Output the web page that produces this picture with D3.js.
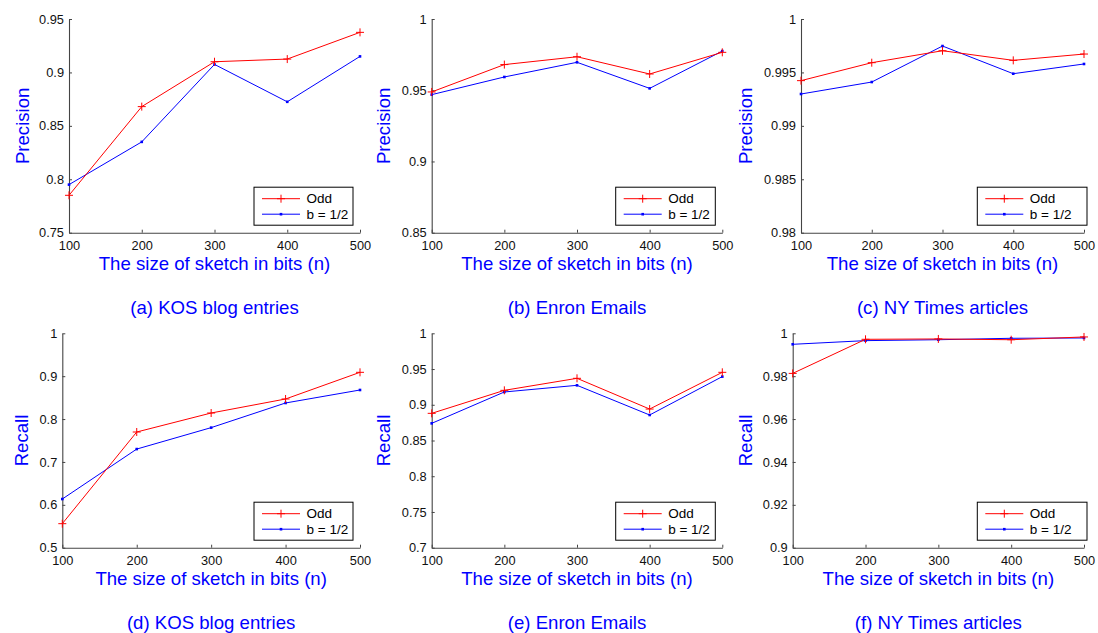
<!DOCTYPE html>
<html lang="en">
<head>
    <meta charset="UTF-8">
    <title>Precision and recall vs sketch size</title>
    <style>
        body { margin: 0; background: #fff; overflow: hidden; }
        svg { display: block; }
        text { font-family: "Liberation Sans", Arial, sans-serif; }
    </style>
</head>
<body>
    <svg id="graph" width="1098" height="633"></svg>
    <script src="https://cdn.jsdelivr.net/npm/d3@7/dist/d3.min.js"></script>
    <script>
        // data
        const sizes = [100, 200, 300, 400, 500];
        const seriesNames = ["Odd", "b = 1/2"];

        const kosPrecisionOdd = [0.785, 0.868, 0.910, 0.9125, 0.9375];
        const kosPrecisionHalf = [0.795, 0.835, 0.9075, 0.8725, 0.915];
        const enronPrecisionOdd = [0.9488, 0.968, 0.9735, 0.9614, 0.9766];
        const enronPrecisionHalf = [0.9469, 0.9593, 0.9696, 0.9513, 0.9775];
        const nytPrecisionOdd = [0.99423, 0.99591, 0.99703, 0.99613, 0.99672];
        const nytPrecisionHalf = [0.99298, 0.99410, 0.99747, 0.99488, 0.99579];

        const kosRecallOdd = [0.556, 0.7698, 0.8141, 0.8468, 0.909];
        const kosRecallHalf = [0.6135, 0.730, 0.780, 0.8375, 0.8678];
        const enronRecallOdd = [0.888, 0.9202, 0.937, 0.894, 0.9454];
        const enronRecallHalf = [0.874, 0.9179, 0.9272, 0.8857, 0.9394];
        const nytRecallOdd = [0.9813, 0.9972, 0.99736, 0.9970, 0.99829];
        const nytRecallHalf = [0.99487, 0.99658, 0.9970, 0.99767, 0.99782];

        const kosPrecisionTicks = [0.75, 0.8, 0.85, 0.9, 0.95];
        const enronPrecisionTicks = [0.85, 0.9, 0.95, 1];
        const nytPrecisionTicks = [0.98, 0.985, 0.99, 0.995, 1];
        const kosRecallTicks = [0.5, 0.6, 0.7, 0.8, 0.9, 1];
        const enronRecallTicks = [0.7, 0.75, 0.8, 0.85, 0.9, 0.95, 1];
        const nytRecallTicks = [0.9, 0.92, 0.94, 0.96, 0.98, 1];

        const captions = ["(a) KOS blog entries", "(b) Enron Emails", "(c) NY Times articles",
            "(d) KOS blog entries", "(e) Enron Emails", "(f) NY Times articles"];
        const yTitles = ["Precision", "Recall"];
        const xTitle = "The size of sketch in bits (n)";

        const panels = [
            { odd: kosPrecisionOdd, half: kosPrecisionHalf, ticks: kosPrecisionTicks },
            { odd: enronPrecisionOdd, half: enronPrecisionHalf, ticks: enronPrecisionTicks },
            { odd: nytPrecisionOdd, half: nytPrecisionHalf, ticks: nytPrecisionTicks },
            { odd: kosRecallOdd, half: kosRecallHalf, ticks: kosRecallTicks },
            { odd: enronRecallOdd, half: enronRecallHalf, ticks: enronRecallTicks },
            { odd: nytRecallOdd, half: nytRecallHalf, ticks: nytRecallTicks }
        ];

        // layout (pixels)
        const plotLeft = [[69, 431.7, 801], [62.3, 431.7, 792.7]];
        const plotRight = [360, 722.3, 1084];
        const plotTop = [19, 333.3];
        const plotBottom = [232.7, 547.7];
        const yTitleX = [[22, 383.3, 745], [21.7, 383.3, 745]];
        const legendRight = [353, 715.3, 1087];
        const legendWidth = [99, 99.6, 109.7];

        const red = "#ff0000", blue = "#0000ff";
        const svg = d3.select("#graph");

        panels.forEach((p, i) => {
            const row = Math.floor(i / 3), col = i % 3;
            const x0 = plotLeft[row][col], x1 = plotRight[col];
            const y0 = plotTop[row], y1 = plotBottom[row];

            const x = d3.scaleLinear().domain([100, 500]).range([x0, x1]);
            const y = d3.scaleLinear().domain(d3.extent(p.ticks)).range([y1, y0]);

            const g = svg.append("g");

            const xa = g.append("g")
                .attr("transform", `translate(0,${y1})`)
                .call(d3.axisBottom(x).tickValues(sizes).tickSize(-3).tickSizeOuter(0).tickPadding(7).tickFormat(d3.format("d")));
            const ya = g.append("g")
                .attr("transform", `translate(${x0},0)`)
                .call(d3.axisLeft(y).tickValues(p.ticks).tickSize(-3).tickSizeOuter(0).tickPadding(5).tickFormat(d => String(d)));

            [xa, ya].forEach(a => {
                a.selectAll("path.domain").attr("stroke", "#444").attr("stroke-width", 1.1);
                a.selectAll(".tick line").attr("stroke", "#444");
                a.selectAll(".tick text").attr("fill", "#111").style("font-size", "12.8px")
                    .style("font-family", "'Liberation Sans', Arial, sans-serif");
            });
            xa.selectAll(".tick text").attr("dy", "0.8em");

            const line = d3.line().x((d, k) => x(sizes[k])).y(d => y(d));

            g.append("path").datum(p.half)
                .attr("d", line).attr("fill", "none").attr("stroke", blue).attr("stroke-width", 1);
            g.append("path").datum(p.odd)
                .attr("d", line).attr("fill", "none").attr("stroke", red).attr("stroke-width", 1);

            g.selectAll(".dot").data(p.half).enter().append("rect")
                .attr("x", (d, k) => x(sizes[k]) - 1.3).attr("y", d => y(d) - 1.3)
                .attr("width", 2.6).attr("height", 2.6).attr("fill", blue);

            g.selectAll(".plus").data(p.odd).enter().append("path")
                .attr("d", (d, k) => {
                    const cx = x(sizes[k]), cy = y(d);
                    return `M${cx - 4},${cy}H${cx + 4}M${cx},${cy - 4}V${cy + 4}`;
                })
                .attr("stroke", red).attr("stroke-width", 1);

            // legend
            const lx = legendRight[col] - legendWidth[col];
            const ly = y1 - 7.5 - 38;
            const lg = g.append("g").attr("transform", `translate(${lx},${ly})`);
            lg.append("rect").attr("width", legendWidth[col]).attr("height", 38)
                .attr("fill", "#fff").attr("stroke", "#000").attr("stroke-width", 1);
            seriesNames.forEach((name, k) => {
                const cy = 11.5 + k * 15.5;
                const c = k === 0 ? red : blue;
                lg.append("line").attr("x1", 8).attr("x2", 46).attr("y1", cy).attr("y2", cy)
                    .attr("stroke", c).attr("stroke-width", 1);
                if (k === 0) {
                    lg.append("path").attr("d", `M23,${cy}H31M27,${cy - 4}V${cy + 4}`)
                        .attr("stroke", red).attr("stroke-width", 1);
                } else {
                    lg.append("rect").attr("x", 25.7).attr("y", cy - 1.3)
                        .attr("width", 2.6).attr("height", 2.6).attr("fill", blue);
                }
                lg.append("text").attr("x", 52.5).attr("y", cy).attr("dy", "0.35em")
                    .style("font-size", "13.5px").attr("fill", "#000").text(name);
            });

            // titles
            g.append("text")
                .attr("x", (x0 + x1) / 2).attr("y", y1 + 30.5).attr("dy", "0.35em")
                .attr("text-anchor", "middle").attr("fill", blue).style("font-size", "18.6px")
                .text(xTitle);
            g.append("text")
                .attr("transform", `translate(${yTitleX[row][col]},${(y0 + y1) / 2}) rotate(-90)`)
                .attr("dy", "0.35em").attr("text-anchor", "middle").attr("fill", blue)
                .style("font-size", "18.6px").text(yTitles[row]);
            g.append("text")
                .attr("x", (x0 + x1) / 2).attr("y", y1 + 75).attr("dy", "0.35em")
                .attr("text-anchor", "middle").attr("fill", blue).style("font-size", "18.6px")
                .text(captions[i]);
        });
    </script>
</body>
</html>
